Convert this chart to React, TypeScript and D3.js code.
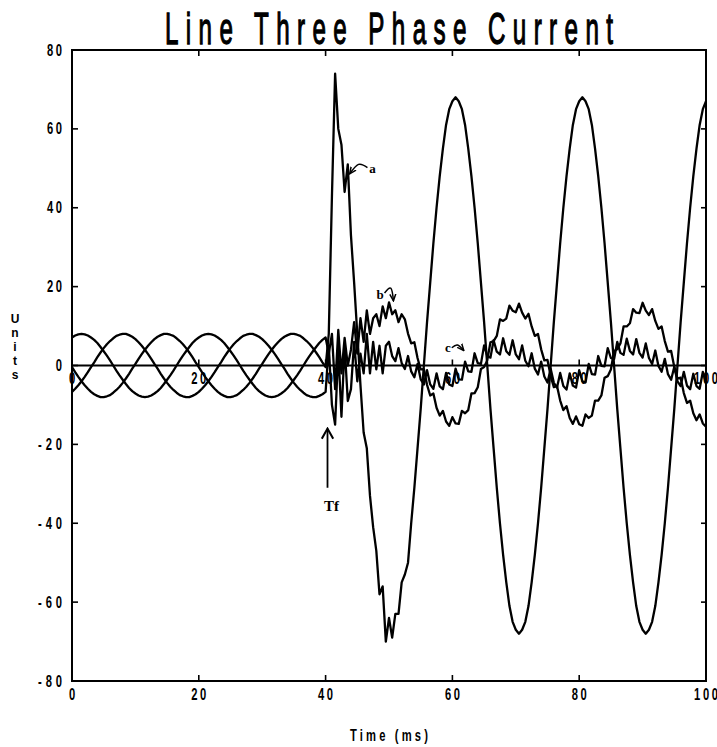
import React from 'react'
import * as d3 from 'd3'

// samples every 0.5 ms, t = index * sampleStep
const sampleStep = 0.5

// faulted phase (a)
const phaseA = [
  -0.4, -1.7, -2.9, -4.0, -5.0, -5.9, -6.7, -7.3, -7.7, -8.0,
  -8.0, -7.8, -7.5, -6.9, -6.2, -5.4, -4.4, -3.3, -2.1, -0.8,
  0.4, 1.7, 2.9, 4.0, 5.0, 5.9, 6.7, 7.3, 7.7, 8.0,
  8.0, 7.8, 7.5, 6.9, 6.2, 5.4, 4.4, 3.3, 2.1, 0.8,
  -0.4, -1.7, -2.9, -4.0, -5.0, -5.9, -6.7, -7.3, -7.7, -8.0,
  -8.0, -7.8, -7.5, -6.9, -6.2, -5.4, -4.4, -3.3, -2.1, -0.8,
  0.4, 1.7, 2.9, 4.0, 5.0, 5.9, 6.7, 7.3, 7.7, 8.0,
  8.0, 7.8, 7.5, 6.9, 6.2, 5.4, 4.4, 3.3, 2.1, 0.8,
  -0.4,
  8, 43, 74, 60, 56, 44, 51, 33, 21, 8,
  -5, -17, -21, -33, -41, -47, -58, -56, -70, -64,
  -69, -63, -63, -55, -53, -50,
  -40, -31, -21, -11, 0, 11, 21, 31, 40, 48, 55, 61, 65, 67,
  68, 67, 65, 61, 55, 48, 40, 31, 21, 11, 0, -11, -21, -31, -40, -48, -55, -61, -65, -67,
  -68, -67, -65, -61, -55, -48, -40, -31, -21, -11, 0, 11, 21, 31, 40, 48, 55, 61, 65, 67,
  68, 67, 65, 61, 55, 48, 40, 31, 21, 11, 0, -11, -21, -31, -40, -48, -55, -61, -65, -67,
  -68, -67, -65, -61, -55, -48, -40, -31, -21, -11, 0, 11, 21, 31, 40, 48, 55, 61, 65, 67,
]

// phase b
const phaseB = [
  7.1, 7.6, 7.9, 8.0, 7.9, 7.6, 7.1, 6.5, 5.7, 4.7,
  3.6, 2.5, 1.3, 0, -1.3, -2.5, -3.6, -4.7, -5.7, -6.5,
  -7.1, -7.6, -7.9, -8.0, -7.9, -7.6, -7.1, -6.5, -5.7, -4.7,
  -3.6, -2.5, -1.3, 0, 1.3, 2.5, 3.6, 4.7, 5.7, 6.5,
  7.1, 7.6, 7.9, 8.0, 7.9, 7.6, 7.1, 6.5, 5.7, 4.7,
  3.6, 2.5, 1.3, 0, -1.3, -2.5, -3.6, -4.7, -5.7, -6.5,
  -7.1, -7.6, -7.9, -8.0, -7.9, -7.6, -7.1, -6.5, -5.7, -4.7,
  -3.6, -2.5, -1.3, 0, 1.3, 2.5, 3.6, 4.7, 5.7, 6.5,
  7.1,
  3, 8, -6, 9, -2, 7, 0, 4, 11, 3, 12, 6, 14, 8, 12, 13, 10, 15, 12, 16, 13, 14, 11, 13,
  11.7, 8.1, 5.6, 5.9, 1.9, -1.0, -0.9, -4.9, -7.6, -7.1,
  -10.7, -12.7, -11.5, -14.2, -15.3, -13.1, -14.7, -14.8, -11.5, -12.1,
  -11.3, -7.1, -7.0, -5.5, -0.9, -0.4, 1.3, 5.9, 6.2, 7.5,
  11.7, 11.3, 11.9, 15.2, 13.9, 13.5, 15.7, 13.4, 11.9, 13.1,
  9.9, 7.5, 8.0, 4.1, 1.3, 1.4, -2.7, -5.5, -5.2, -8.9,
  -11.3, -10.3, -13.3, -14.8, -12.9, -14.9, -15.3, -12.4, -13.3, -12.7,
  -8.9, -8.9, -7.6, -3.1, -2.7, -1.0, 3.7, 4.1, 5.6, 9.9,
  9.9, 10.7, 14.3, 13.4, 13.3, 15.9, 13.9, 12.8, 14.3, 11.3,
  9.3, 9.9, 6.2, 3.5, 3.7, -0.4, -3.3, -3.1, -7.0, -9.5,
  -8.9, -12.1, -13.9, -12.4, -14.7, -15.5,
]

// phase c
const phaseC = [
  -6.7, -5.9, -5.0, -4.0, -2.9, -1.7, -0.4, 0.8, 2.1, 3.3,
  4.4, 5.4, 6.2, 6.9, 7.5, 7.8, 8.0, 8.0, 7.7, 7.3,
  6.7, 5.9, 5.0, 4.0, 2.9, 1.7, 0.4, -0.8, -2.1, -3.3,
  -4.4, -5.4, -6.2, -6.9, -7.5, -7.8, -8.0, -8.0, -7.7, -7.3,
  -6.7, -5.9, -5.0, -4.0, -2.9, -1.7, -0.4, 0.8, 2.1, 3.3,
  4.4, 5.4, 6.2, 6.9, 7.5, 7.8, 8.0, 8.0, 7.7, 7.3,
  6.7, 5.9, 5.0, 4.0, 2.9, 1.7, 0.4, -0.8, -2.1, -3.3,
  -4.4, -5.4, -6.2, -6.9, -7.5, -7.8, -8.0, -8.0, -7.7, -7.3,
  -6.7,
  5, -10, -15, 4, -13, 5, -9, -6, 6, -4, 3, -2, 8, -2, 6, -1, 5, -2, 5,
  6.0, 2.4, 1.1, 4.4, 0.6, -0.9, 2.4, -1.5, -3.0, 0.4,
  -3.5, -4.8, -1.2, -4.8, -5.9, -2.0, -5.3, -6.0, -1.9, -4.8,
  -5.2, -0.8, -3.5, -3.6, 1.0, -1.5, -1.6, 3.1, 0.6, 0.4,
  5.1, 2.4, 2.0, 6.4, 3.5, 2.8, 6.9, 3.6, 2.7, 6.4,
  2.8, 1.6, 5.1, 1.2, -0.2, 3.1, -0.8, -2.3, 1.0, -2.8,
  -4.3, -0.8, -4.4, -5.6, -1.9, -5.2, -6.1, -2.0, -5.1, -5.6,
  -1.2, -4.0, -4.3, 0.4, -2.2, -2.3, 2.4, -0.1, -0.2, 4.4,
  1.9, 1.6, 6.0, 3.2, 2.7, 6.8, 3.7, 2.8, 6.7, 3.2,
  2.0, 5.6, 1.9, 0.4, 3.8, -0.1, -1.6, 1.7, -2.2, -3.6,
  -0.3, -4.0, -5.2, -1.6, -5.1, -6.0, -2.1, -5.2, -5.9, -1.6,
  -4.4,
]

const xTicks = [0, 20, 40, 60, 80, 100]
const yTicks = [80, 60, 40, 20, 0, -20, -40, -60, -80]
const chartTitle = 'Line Three Phase Current'
const xTitle = 'Time (ms)'
const yTitle = 'Units'

// phase labels with their little pointer arrows (data coords)
const phaseNotes = [
  { text: 'a', at: [47.4, 48.9], from: [46.6, 50.2], bend: [45.2, 51.0], to: [43.8, 48.6] },
  { text: 'b', at: [48.6, 16.8], from: [49.3, 18.4], bend: [50.3, 19.6], to: [50.7, 16.4] },
  { text: 'c', at: [59.3, 3.4], from: [59.9, 4.5], bend: [60.8, 5.2], to: [61.8, 3.8] },
]
const faultNote = { text: 'Tf', t: 40.3, tail: -31, tip: -16, labelV: -37 }

const plotFont = "'Liberation Sans', Arial, Helvetica, sans-serif"
const noteFont = "'Liberation Serif', 'DejaVu Serif', serif"

function Squeezed({ x, y, text, size, sx, span, anchor = 'middle', weight = 'bold', thicken = 0 }) {
  return (
    <text
      transform={`translate(${x},${y}) scale(${sx},1)`}
      textAnchor={anchor}
      fontSize={size}
      fontWeight={weight}
      fontFamily={plotFont}
      textLength={span / sx}
      lengthAdjust="spacing"
      fill="#000"
      stroke={thicken ? '#000' : 'none'}
      strokeWidth={thicken}
    >
      {text}
    </text>
  )
}

const pitch = 9 // px between label characters
const spanOf = (s: string) => (s.length - 1) * pitch + 6

export default function App() {
  const width = 717
  const height = 747
  const x = d3.scaleLinear().domain([0, 100]).range([72, 706])
  const y = d3.scaleLinear().domain([-80, 80]).range([681, 50])
  const y0 = y(0)

  const line = d3.line<number>()
    .x((_, i) => x(i * sampleStep))
    .y(d => y(d))

  const series = [phaseA, phaseB, phaseC]
  const inner = xTicks.slice(1, -1)
  const curve = d3.line().curve(d3.curveNatural)

  return (
    <svg width={width} height={height} style={{ position: 'absolute', left: 0, top: 0, background: '#fff' }}>
      <defs>
        <marker id="tip" viewBox="0 0 10 10" refX="9" refY="5" markerWidth="5" markerHeight="5" orient="auto">
          <path d="M0,1 L9,5 L0,9" fill="none" stroke="#000" strokeWidth="2" />
        </marker>
        <marker id="tfHead" viewBox="0 0 10 10" refX="9" refY="5" markerWidth="7" markerHeight="7" orient="auto">
          <path d="M1,0.5 L9,5 L1,9.5" fill="none" stroke="#000" strokeWidth="1.6" />
        </marker>
      </defs>

      <Squeezed x={(x(0) + x(100)) / 2} y={44} text={chartTitle} size={44} sx={0.55} span={448} weight="normal" thicken={1.3} />

      {/* frame */}
      <rect x={x(0)} y={y(80)} width={x(100) - x(0)} height={y(-80) - y(80)} fill="none" stroke="#000" strokeWidth={2} />
      {inner.map(t => (
        <g key={'xt' + t} stroke="#000" strokeWidth={1.6}>
          <line x1={x(t)} x2={x(t)} y1={y(80)} y2={y(80) + 6} />
          <line x1={x(t)} x2={x(t)} y1={y(-80)} y2={y(-80) - 6} />
          <line x1={x(t)} x2={x(t)} y1={y0} y2={y0 - 6} />
        </g>
      ))}
      {yTicks.slice(1, -1).map(v => (
        <g key={'yt' + v} stroke="#000" strokeWidth={1.6}>
          <line x1={x(0)} x2={x(0) + 6} y1={y(v)} y2={y(v)} />
          <line x1={x(100)} x2={x(100) - 5} y1={y(v)} y2={y(v)} />
        </g>
      ))}

      {/* y tick labels */}
      {yTicks.map(v => (
        <Squeezed key={'yl' + v} x={62} y={y(v) + 5.5} text={String(v)} size={16} sx={0.7} span={spanOf(String(v))} anchor="end" />
      ))}
      {/* x tick labels, bottom and along the zero line */}
      {xTicks.map(t => (
        <g key={'xl' + t}>
          <Squeezed x={x(t)} y={700} text={String(t)} size={16} sx={0.7} span={spanOf(String(t))} />
          <Squeezed x={x(t)} y={y0 + 18} text={String(t)} size={16} sx={0.7} span={spanOf(String(t))} />
        </g>
      ))}

      <Squeezed x={(x(0) + x(100)) / 2} y={741} text={xTitle} size={16} sx={0.7} span={78} />
      <text fontFamily={plotFont} fontWeight="bold" fontSize={12} textAnchor="middle" fill="#000">
        {yTitle.split('').map((ch, k) => (
          <tspan key={k} x={15} y={323 + k * 14}>{ch}</tspan>
        ))}
      </text>

      {/* zero axis */}
      <line x1={x(0)} x2={x(100)} y1={y0} y2={y0} stroke="#000" strokeWidth={2} />

      {series.map((s, k) => (
        <path key={k} d={line(s) || ''} fill="none" stroke="#000" strokeWidth={2.3} strokeLinejoin="round" />
      ))}

      {phaseNotes.map(n => (
        <g key={n.text}>
          <text x={x(n.at[0])} y={y(n.at[1])} fontFamily={noteFont} fontWeight="bold" fontSize={13} textAnchor="middle" fill="#000">{n.text}</text>
          <path
            d={curve([[x(n.from[0]), y(n.from[1])], [x(n.bend[0]), y(n.bend[1])], [x(n.to[0]), y(n.to[1])]]) || ''}
            fill="none" stroke="#000" strokeWidth={1.5} markerEnd="url(#tip)"
          />
        </g>
      ))}

      <line x1={x(faultNote.t)} x2={x(faultNote.t)} y1={y(faultNote.tail)} y2={y(faultNote.tip)} stroke="#000" strokeWidth={1.8} markerEnd="url(#tfHead)" />
      <text x={x(faultNote.t) + 4} y={y(faultNote.labelV)} fontFamily={noteFont} fontWeight="bold" fontSize={15} textAnchor="middle" fill="#000">{faultNote.text}</text>
    </svg>
  )
}
